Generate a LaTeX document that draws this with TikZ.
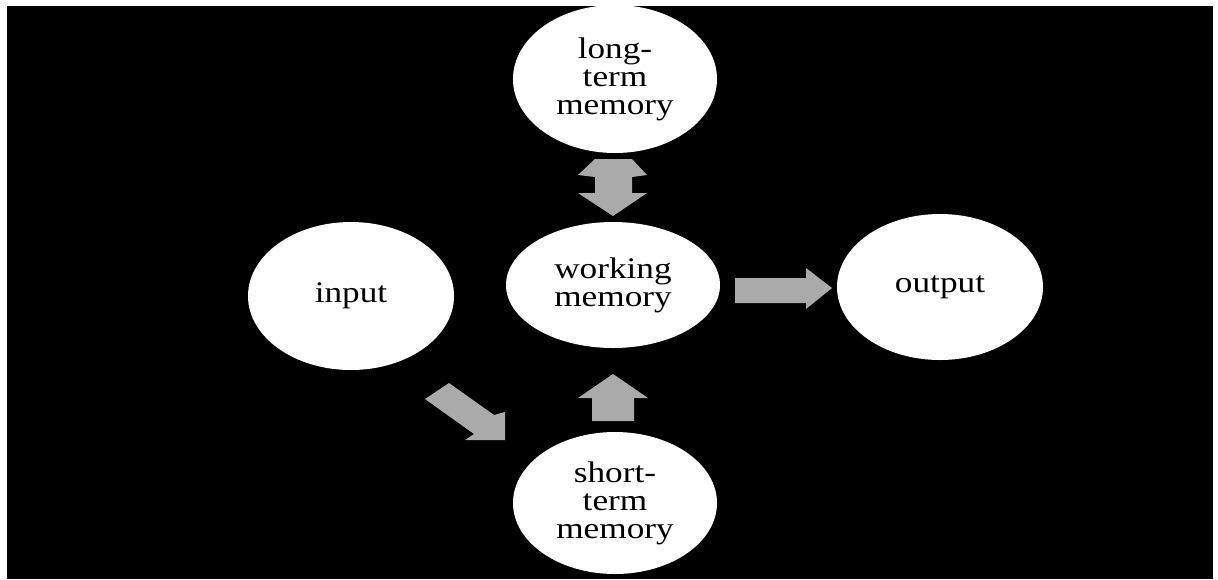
\documentclass[tikz,border=0pt]{standalone}
\usepackage{fontspec}
\setmainfont{Liberation Serif}[FakeStretch=1.18]
\usepackage{tikz}
\usetikzlibrary{%
	shapes.geometric,% wg. ellipse
	positioning
}
\definecolor{arrowgray}{HTML}{AAAAAA}
\tikzstyle{memory} = [ellipse, fill=white, inner sep=0pt, align=center, font=\fontsize{17}{16}\selectfont]
\tikzstyle{blockarrow} = [fill=arrowgray]

\begin{document}
\begin{tikzpicture}[x=0.02cm,y=-0.02cm]
	
	% First we draw the background
	\fill[white] (0,0) rectangle (1218,579);
	\useasboundingbox (0,0) rectangle (1218,579);
	\fill[black] (7,6) rectangle (1213,579);
	
	% Then the memory stores
	\foreach \pos/\name/\ewd/\eht/\txt in {
		{(615,79)/ltm/204/148/{long-\\term\\memory}},
		{(613,285)/wm/214/126/{working\\memory}},
		{(351,296)/in/206/148/{input}},
		{(940,287)/out/206/146/{output}},
		{(615,503)/stm/204/142/{short-\\term\\memory}}}
	\node[memory, minimum width=\ewd*0.02cm, minimum height=\eht*0.02cm] (\name) at \pos {\txt};
	
	% Block arrows between the stores
	% long-term <-> working
	\path[blockarrow] (595,159) -- (632,159) -- (647,175) -- (632,177) -- (632,193)
		-- (647,193) -- (613,216) -- (578,193) -- (595,193) -- (595,177) -- (578,175) -- cycle;
	% working -> output
	\path[blockarrow] (735,278) -- (806,278) -- (806,268) -- (832,288) -- (806,309)
		-- (806,303) -- (735,303) -- cycle;
	% short-term -> working
	\path[blockarrow] (613,374) -- (648,398) -- (634,398) -- (634,421) -- (592,421)
		-- (592,398) -- (578,398) -- cycle;
	% input -> short-term
	\path[blockarrow] (425,399) -- (449,383) -- (494,415) -- (505,412) -- (505,440)
		-- (465,440) -- (474,434) -- cycle;
	
\end{tikzpicture}
\end{document}
